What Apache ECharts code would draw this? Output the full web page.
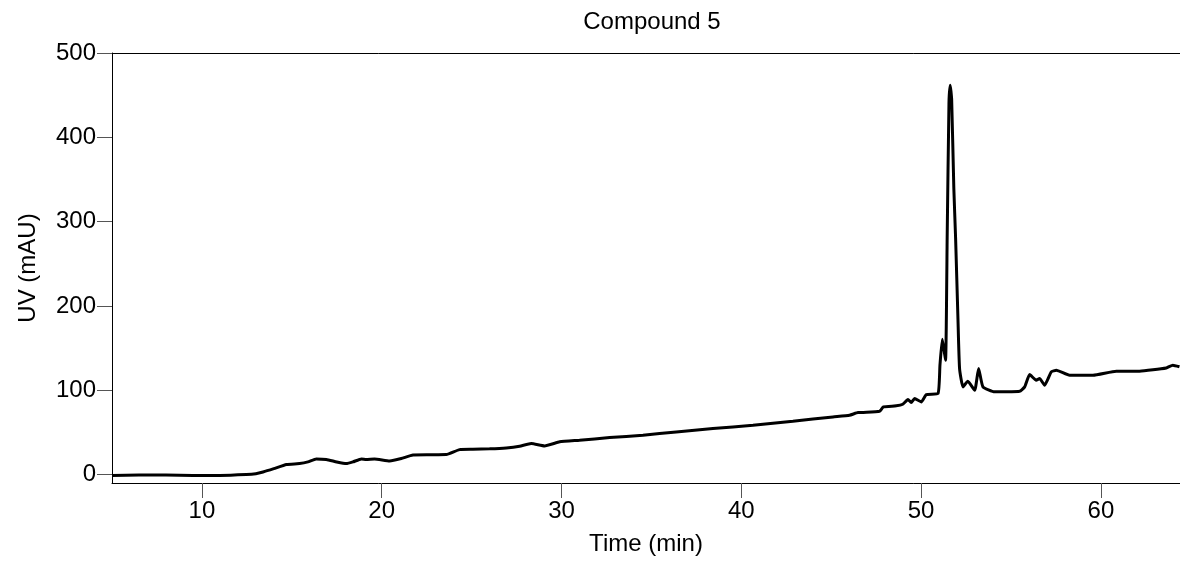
<!DOCTYPE html>
<html>
<head>
<meta charset="utf-8">
<title>Compound 5</title>
<script src="https://cdn.jsdelivr.net/npm/echarts@6/dist/echarts.min.js"></script>
<style>
  html, body { margin: 0; padding: 0; background: #fff; }
  #chart { width: 1180px; height: 561px; }
</style>
</head>
<body>
<div id="chart"></div>
<script>
  // retention time (min) and UV absorbance (mAU)
  const timeMin = [
    5.0, 6.5, 8.0, 9.5, 11.0, 12.47, 13.0, 13.4, 14.0, 14.7,
    15.43, 15.9, 16.36, 16.92, 17.5, 18.03, 18.4, 18.87, 19.14, 19.6,
    20.44, 21.09, 21.74, 22.7, 23.59, 24.33, 25.07, 26.0, 26.93, 27.67,
    28.32, 29.06, 29.9, 31.0, 32.68, 34.53, 36.38, 38.42, 40.65, 42.87,
    45.1, 46.02, 46.49, 47.69, 47.9, 48.62, 48.98, 49.27, 49.45, 49.64,
    50.01, 50.29, 50.94, 51.05, 51.18, 51.36, 51.45, 51.55, 51.62, 51.7,
    51.82, 51.92, 52.05, 52.14, 52.33, 52.6, 52.98, 53.2, 53.44, 54.09,
    55.48, 55.76, 56.04, 56.4, 56.59, 56.87, 57.24, 57.52, 58.26, 59.56,
    60.86, 62.15, 63.64, 64.0, 64.37
  ];
  const uvMau = [
    -1, -0.5, -0.5, -1, -1, 0, 1, 3, 7, 12,
    13, 15, 18.6, 18, 15, 13, 15, 18.6, 17.8, 18.6,
    16.2, 19, 23.3, 23.5, 23.7, 29.6, 30, 30.5, 31.6, 33.6,
    36.8, 34, 38.8, 40.7, 43.9, 46.6, 50.6, 54.6, 58.5, 63.2,
    68.4, 70.4, 73.5, 75, 80.3, 81.5, 83.4, 89, 85.4, 90.2,
    86.2, 94.9, 96.1, 130, 160.5, 135.6, 280, 440, 461.8, 445,
    340, 280, 185, 125.7, 104, 110.7, 100, 125.7, 104, 98.1,
    98.8, 104, 118.6, 111.9, 113.9, 106, 121.8, 123.7, 117.8, 117.8,
    122.6, 122.6, 126.5, 129.7, 127.8
  ];
  const xTicks = [10, 20, 30, 40, 50, 60];
  const yTicks = [0, 100, 200, 300, 400, 500];

  const points = timeMin.map((t, i) => [t, uvMau[i]]);

  const chart = echarts.init(document.getElementById('chart'));
  chart.setOption({
    animation: false,
    title: {
      text: 'Compound 5',
      left: 652,
      top: 10,
      padding: 0,
      textAlign: 'center',
      textStyle: { fontSize: 24, fontWeight: 'normal', color: '#000' }
    },
    grid: { left: 112, right: 0, top: 53, bottom: 77 },
    xAxis: [{
      type: 'value',
      min: 5,
      max: 64.4,
      name: 'Time (min)',
      nameLocation: 'middle',
      nameGap: 49,
      nameTextStyle: { fontSize: 24, color: '#000' },
      axisLine: { show: true, onZero: false, lineStyle: { color: '#000', width: 1 } },
      axisTick: { show: true, length: 15, lineStyle: { color: '#555', width: 1 }, customValues: xTicks },
      axisLabel: { fontSize: 24, color: '#000', margin: 16, customValues: xTicks },
      splitLine: { show: false }
    }, {
      // top edge of the box; its ticks and labels are kept but made invisible
      type: 'value',
      position: 'top',
      min: 5,
      max: 64.4,
      axisLine: { show: true, onZero: false, lineStyle: { color: '#000', width: 1 } },
      axisTick: { show: true, length: 1, lineStyle: { color: 'rgba(0,0,0,0)' }, customValues: xTicks },
      axisLabel: { fontSize: 10, color: 'rgba(0,0,0,0)', customValues: xTicks },
      splitLine: { show: false }
    }],
    yAxis: {
      type: 'value',
      min: -10,
      max: 500,
      name: 'UV (mAU)',
      nameLocation: 'middle',
      nameGap: 72,
      nameTextStyle: { fontSize: 24, color: '#000' },
      axisLine: { show: true, onZero: false, lineStyle: { color: '#000', width: 1 } },
      axisTick: { show: true, length: 15, lineStyle: { color: '#555', width: 1 }, customValues: yTicks },
      axisLabel: { fontSize: 24, color: '#000', margin: 16, customValues: yTicks },
      splitLine: { show: false }
    },
    series: [{
      type: 'line',
      xAxisIndex: 0,
      data: points,
      showSymbol: false,
      smooth: 0.15,
      lineStyle: { color: '#000', width: 3 }
    }]
  });
</script>
</body>
</html>
